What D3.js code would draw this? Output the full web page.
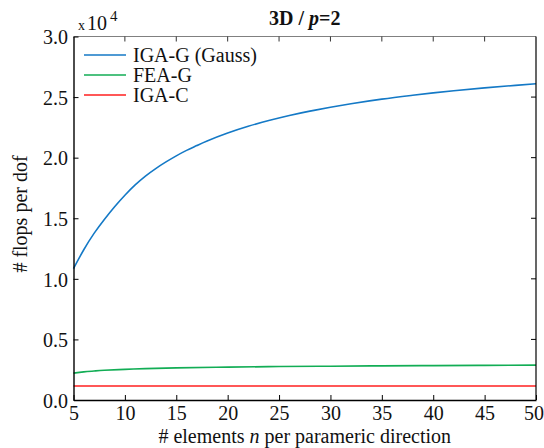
<!DOCTYPE html>
<html>
<head>
<meta charset="utf-8">
<script src="https://cdn.jsdelivr.net/npm/d3@7"></script>
<style>
  html, body { margin: 0; padding: 0; background: #fff; }
</style>
</head>
<body>
<svg id="chart" width="544" height="448"></svg>
<script>
// ---- data (flops per dof) ----
const nIGAG = [5, 6, 7, 8, 9, 10, 11, 12, 13, 14, 15, 16, 17, 18, 20, 22, 24, 26, 28, 30, 32, 35, 38, 40, 42, 45, 48, 50];
const igaG  = [10850, 12400, 13750, 14900, 15950, 16900, 17750, 18480, 19100, 19650, 20150, 20600, 21000, 21380, 22030, 22590, 23060, 23480, 23840, 24160, 24450, 24830, 25150, 25350, 25520, 25760, 25970, 26100];
const nFEAG = [5, 6, 7, 8, 10, 12, 15, 20, 25, 30, 35, 40, 45, 50];
const feaG  = [2220, 2320, 2390, 2450, 2530, 2590, 2650, 2710, 2760, 2790, 2820, 2840, 2860, 2880];
const nIGAC = [5, 50];
const igaC  = [1150, 1150];
const xTicks = [5, 10, 15, 20, 25, 30, 35, 40, 45, 50];
const yTicks = [0, 5000, 10000, 15000, 20000, 25000, 30000];
const seriesNames = ["IGA-G (Gauss)", "FEA-G", "IGA-C"];
const seriesColors = ["#1479c6", "#12ad55", "#ff1f1f"];

const FONT = '"Liberation Serif", "DejaVu Serif", "Times New Roman", Times, serif';
const FS = 20;
const svg = d3.select("#chart").attr("font-family", FONT);
const L = 73.5, R = 536, T = 36.5, B = 400;
const x = d3.scaleLinear().domain([5, 50]).range([L, R]);
const y = d3.scaleLinear().domain([0, 30000]).range([B, T]);

// series
const series = [
  { n: nIGAG, v: igaG },
  { n: nFEAG, v: feaG },
  { n: nIGAC, v: igaC }
];
const line = d3.line().x(d => x(d[0])).y(d => y(d[1])).curve(d3.curveNatural);
series.forEach((s, i) => {
  svg.append("path")
    .datum(s.n.map((n, j) => [n, s.v[j]]))
    .attr("d", line)
    .attr("fill", "none")
    .attr("stroke", seriesColors[i])
    .attr("stroke-width", 1.6);
});

// frame
svg.append("line").attr("x1", L).attr("x2", R).attr("y1", T).attr("y2", T).attr("stroke", "#808080").attr("stroke-width", 1.2);
svg.append("line").attr("x1", R).attr("x2", R).attr("y1", T).attr("y2", B).attr("stroke", "#000").attr("stroke-width", 1.2);

// axes
const xAxis = svg.append("g").attr("transform", `translate(0,${B})`)
  .call(d3.axisBottom(x).tickValues(xTicks).tickSizeInner(-5).tickSizeOuter(0).tickPadding(20).tickFormat(d3.format("d")));
const yAxis = svg.append("g").attr("transform", `translate(${L},0)`)
  .call(d3.axisLeft(y).tickValues(yTicks).tickSizeInner(-5).tickSizeOuter(0).tickPadding(5.5).tickFormat(d => (d / 10000).toFixed(1)));
[xAxis, yAxis].forEach(g => {
  g.attr("font-family", FONT).attr("font-size", FS);
  g.select(".domain").attr("stroke", "#000").attr("stroke-width", 1.4);
  g.selectAll(".tick line").attr("stroke", "#000");
  g.selectAll(".tick text").attr("fill", "#111");
});
xAxis.selectAll(".tick text").attr("dy", "0");
// keep the last label inside the page
xAxis.selectAll(".tick text").filter(d => d === 50).attr("dx", -2.5);
yAxis.selectAll(".tick text").attr("dy", "0.36em");
// mirrored ticks on top and right
svg.append("g").selectAll("line").data(xTicks.slice(1, -1)).join("line")
  .attr("x1", d => x(d)).attr("x2", d => x(d)).attr("y1", T).attr("y2", T + 5)
  .attr("stroke", "#333");
svg.append("g").selectAll("line").data(yTicks.slice(1, -1)).join("line")
  .attr("x1", R).attr("x2", R - 5).attr("y1", d => y(d)).attr("y2", d => y(d))
  .attr("stroke", "#000");

// exponent label
const ex = svg.append("text").attr("x", 78).attr("y", 30).attr("fill", "#111");
ex.append("tspan").text("x").attr("font-size", 14);
ex.append("tspan").text("10").attr("dx", 2).attr("font-size", FS);
ex.append("tspan").text("4").attr("dx", 3).attr("dy", -9).attr("font-size", 15);

// title
const title = svg.append("text").attr("x", (L + R) / 2).attr("y", 25).attr("text-anchor", "middle")
  .attr("font-size", FS).attr("font-weight", "bold").attr("fill", "#111");
title.append("tspan").text("3D / ");
title.append("tspan").text("p").attr("font-style", "italic");
title.append("tspan").text("=2");

// axis labels
const xl = svg.append("text").attr("x", (L + R) / 2).attr("y", 443).attr("text-anchor", "middle").attr("font-size", FS).attr("fill", "#111");
xl.append("tspan").text("# elements ");
xl.append("tspan").text("n").attr("font-style", "italic");
xl.append("tspan").text(" per parameric direction");

svg.append("text").attr("transform", `translate(27,214) rotate(-90)`).attr("text-anchor", "middle")
  .attr("font-size", FS).attr("fill", "#111").text("# flops per dof");

// legend
const lg = svg.append("g");
seriesNames.forEach((name, i) => {
  const yy = 55 + i * 20;
  lg.append("line").attr("x1", 84).attr("x2", 126).attr("y1", yy).attr("y2", yy)
    .attr("stroke", seriesColors[i]).attr("stroke-width", 1.6);
  lg.append("text").attr("x", 133).attr("y", yy).attr("dy", "0.35em").attr("font-size", FS).attr("fill", "#111").text(name);
});
</script>
</body>
</html>
